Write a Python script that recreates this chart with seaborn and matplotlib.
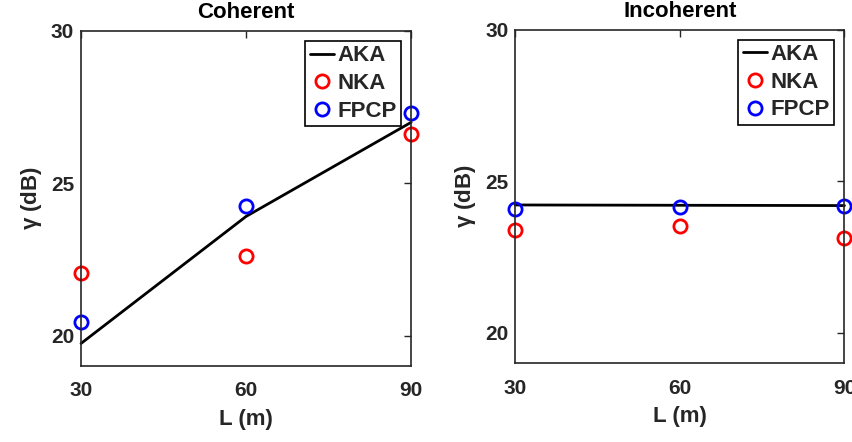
import matplotlib
matplotlib.use("Agg")
import matplotlib.pyplot as plt
import seaborn as sns

L = [30, 60, 90]
coh_aka = [19.74, 23.91, 27.0]
coh_nka = [22.04, 22.61, 26.62]
coh_fpcp = [20.46, 24.25, 27.32]
inc_aka = [24.22, 24.21, 24.2]
inc_nka = [23.4, 23.53, 23.14]
inc_fpcp = [24.1, 24.15, 24.17]
titles = ["Coherent", "Incoherent"]
xticks = [30, 60, 90]
yticks = [20, 25, 30]

sns.set_theme(style="white")
plt.rcParams['font.family'] = ['Liberation Sans', 'DejaVu Sans']
plt.rcParams['font.weight'] = 'bold'
plt.rcParams['mathtext.fontset'] = 'custom'
plt.rcParams['mathtext.rm'] = 'Liberation Sans:bold'
plt.rcParams['mathtext.it'] = 'Liberation Sans:bold'
plt.rcParams['mathtext.bf'] = 'Liberation Sans:bold'

fig = plt.figure(figsize=(8.53, 4.42), dpi=100)
axes = [fig.add_axes([0.095, 0.172, 0.387, 0.758]),
        fig.add_axes([0.604, 0.178, 0.386, 0.755])]

datasets = [(coh_aka, coh_nka, coh_fpcp), (inc_aka, inc_nka, inc_fpcp)]
dark = '#262626'
for ax, (aka, nka, fpcp), title in zip(axes, datasets, titles):
    sns.lineplot(x=L, y=aka, ax=ax, color='black', lw=2, label='AKA')
    sns.lineplot(x=L, y=nka, ax=ax, color='red', lw=0, marker='o', markersize=9.5,
                 markerfacecolor='none', markeredgecolor='red', markeredgewidth=2, label='NKA')
    sns.lineplot(x=L, y=fpcp, ax=ax, color='blue', lw=0, marker='o', markersize=9.5,
                 markerfacecolor='none', markeredgecolor='blue', markeredgewidth=2, label='FPCP')
    for ln in ax.lines:
        ln.set_clip_on(False)
    ax.set_xlim(30, 90)
    ax.set_ylim(19, 30)
    ax.set_xticks(xticks)
    ax.set_yticks(yticks)
    ax.tick_params(direction='in', length=5, width=1, top=True, right=True,
                   labelsize=15, labelcolor=dark, color=dark)
    ax.tick_params(axis='x', pad=11)
    ax.tick_params(axis='y', pad=5)
    for lab in ax.get_xticklabels() + ax.get_yticklabels():
        lab.set_fontweight('bold')
    for s in ax.spines.values():
        s.set_color(dark)
        s.set_linewidth(1.2)
        s.set_visible(True)
    ax.set_title(title, fontsize=16, fontweight='bold', color='black', pad=9)
    ax.set_xlabel('L (m)', fontsize=16, fontweight='bold', color=dark, labelpad=6)
    ax.set_ylabel(r'$\gamma$ (dB)', fontsize=16, fontweight='bold', color=dark, labelpad=5)
    leg = ax.legend(loc='upper right', prop={'weight': 'bold', 'size': 16},
                    frameon=True, fancybox=False, borderaxespad=0.45,
                    handlelength=1.1, handletextpad=0.15, borderpad=0.2, labelspacing=0.3)
    leg.get_frame().set_edgecolor('black')
    leg.get_frame().set_linewidth(1.2)
    leg.get_frame().set_alpha(1)
    leg.set_zorder(1)

fig.savefig('out.png', dpi=100)
